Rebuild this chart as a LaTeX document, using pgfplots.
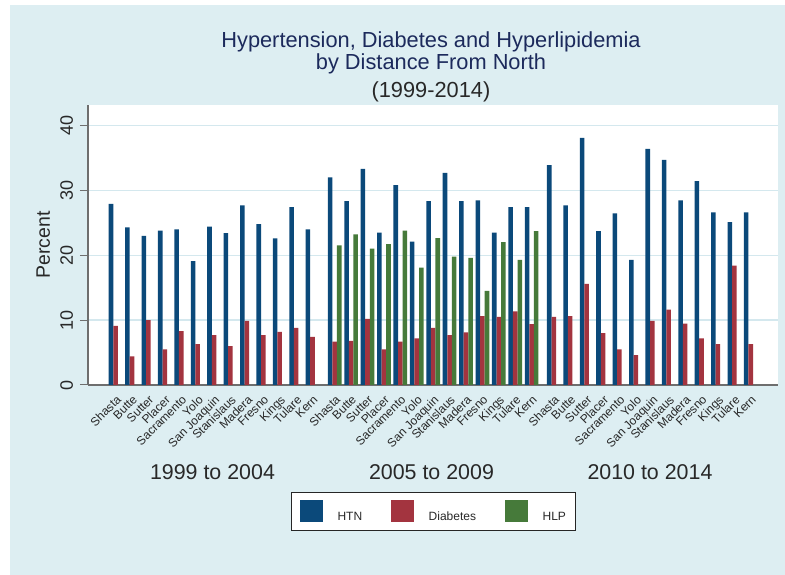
\documentclass[border=0pt]{standalone}
\usepackage{pgfplots}
\pgfplotsset{compat=1.18}
\usepackage{fontspec}
\setmainfont{Liberation Sans}
\definecolor{bgc}{RGB}{221,238,242}
\definecolor{gridc}{RGB}{212,232,238}
\definecolor{htn}{RGB}{11,73,122}
\definecolor{dia}{RGB}{163,52,63}
\definecolor{hlp}{RGB}{70,122,58}
\definecolor{titlec}{RGB}{28,42,92}
\definecolor{axc}{RGB}{110,110,110}
\definecolor{txt}{RGB}{40,40,40}
\begin{document}
\begin{tikzpicture}
\useasboundingbox (-88pt,-190pt) rectangle (697pt,385pt);
\fill[white] (-88pt,-190pt) rectangle (697pt,385pt);
\fill[bgc] (-78pt,-190pt) rectangle (697pt,380pt);
\begin{axis}[
  at={(0,0)}, anchor=south west,
  scale only axis, width=690pt, height=280pt,
  xmin=-1.68, xmax=40.36, ymin=0, ymax=43.15,
  axis background/.style={fill=white},
  ybar, bar width=0.278,
  axis x line=bottom, axis y line=left,
  axis line style={-, draw=axc, line width=1.2pt},
  /pgf/number format/assume math mode=true,
  ytick={0,10,20,30,40},
  ymajorgrids, grid style={draw=gridc, line width=1.4pt},
  tick align=outside, major tick length=8pt,
  ytick style={draw=axc, line width=1pt},
  xtick style={draw=none},
  yticklabel style={xshift=-7pt, font=\fontsize{18}{20}\selectfont, rotate=90, anchor=base, inner sep=0pt, color=txt},
  ylabel={Percent},
  ylabel style={font=\fontsize{19.5}{22}\selectfont, at={([xshift=-38pt]axis description cs:0,0.5)}, rotate=0, anchor=base, inner sep=0pt, color=txt},
  xtick={0,1,2,3,4,5,6,7,8,9,10,11,12,13.35,14.35,15.35,16.35,17.35,18.35,19.35,20.35,21.35,22.35,23.35,24.35,25.35,26.7,27.7,28.7,29.7,30.7,31.7,32.7,33.7,34.7,35.7,36.7,37.7,38.7},
  xticklabels={Shasta,Butte,Sutter,Placer,Sacramento,Yolo,San Joaquin,Stanislaus,Madera,Fresno,Kings,Tulare,Kern,Shasta,Butte,Sutter,Placer,Sacramento,Yolo,San Joaquin,Stanislaus,Madera,Fresno,Kings,Tulare,Kern,Shasta,Butte,Sutter,Placer,Sacramento,Yolo,San Joaquin,Stanislaus,Madera,Fresno,Kings,Tulare,Kern},
  xticklabel style={rotate=45, anchor=north east, font=\fontsize{12}{14}\selectfont, color=txt, inner sep=1pt},
  legend columns=3,
  legend image code/.code={\fill[#1] (0pt,-5.5pt) rectangle (22.5pt,16.5pt);},
  legend style={at={(axis description cs:0.5,-0.3821)}, anchor=north, draw=black!85, line width=0.8pt, fill=white,
    font=\fontsize{12}{14}\selectfont, text=txt, inner xsep=9pt, inner ysep=8pt,
    nodes={inner sep=0pt},
    /tikz/every odd column/.append style={column sep=15pt},
    /tikz/every even column/.append style={column sep=29pt}},
]
\addplot[fill=htn, draw=none, bar shift=-0.278] table {
x y
0 27.9
1 24.3
2 23.0
3 23.8
4 24.0
5 19.1
6 24.4
7 23.4
8 27.7
9 24.8
10 22.6
11 27.4
12 24.0
13.35 32.0
14.35 28.35
15.35 33.3
16.35 23.5
17.35 30.8
18.35 22.1
19.35 28.35
20.35 32.7
21.35 28.35
22.35 28.45
23.35 23.5
24.35 27.4
25.35 27.4
26.7 33.9
27.7 27.7
28.7 38.1
29.7 23.7
30.7 26.45
31.7 19.3
32.7 36.4
33.7 34.7
34.7 28.45
35.7 31.4
36.7 26.6
37.7 25.1
38.7 26.6
};
\addlegendentry{HTN}
\addplot[fill=dia, draw=none, bar shift=0] table {
x y
0 9.1
1 4.4
2 10.0
3 5.5
4 8.3
5 6.3
6 7.7
7 6.0
8 9.9
9 7.7
10 8.2
11 8.8
12 7.4
13.35 6.7
14.35 6.8
15.35 10.2
16.35 5.5
17.35 6.7
18.35 7.2
19.35 8.8
20.35 7.7
21.35 8.1
22.35 10.6
23.35 10.5
24.35 11.35
25.35 9.4
26.7 10.5
27.7 10.6
28.7 15.6
29.7 8.0
30.7 5.5
31.7 4.6
32.7 9.9
33.7 11.6
34.7 9.45
35.7 7.2
36.7 6.3
37.7 18.4
38.7 6.3
};
\addlegendentry{Diabetes}
\addplot[fill=hlp, draw=none, bar shift=0.278] table {
x y
13.35 21.5
14.35 23.2
15.35 21.0
16.35 21.7
17.35 23.8
18.35 18.1
19.35 22.65
20.35 19.8
21.35 19.6
22.35 14.5
23.35 22.0
24.35 19.3
25.35 23.7
};
\addlegendentry{HLP}
\end{axis}
\node[anchor=base, text=titlec, font=\fontsize{21.8}{24}\selectfont] at (343pt,337.3pt) {Hypertension, Diabetes and Hyperlipidemia};
\node[anchor=base, text=titlec, font=\fontsize{21.8}{24}\selectfont] at (343pt,315.7pt) {by Distance From North};
\node[anchor=base, text=txt, font=\fontsize{21.8}{24}\selectfont] at (343pt,287.3pt) {(1999-2014)};
\node[anchor=base, text=txt, font=\fontsize{21.4}{24}\selectfont] at (124.5pt,-95pt) {1999 to 2004};
\node[anchor=base, text=txt, font=\fontsize{21.4}{24}\selectfont] at (343.5pt,-95pt) {2005 to 2009};
\node[anchor=base, text=txt, font=\fontsize{21.4}{24}\selectfont] at (562pt,-95pt) {2010 to 2014};
\end{tikzpicture}
\end{document}
